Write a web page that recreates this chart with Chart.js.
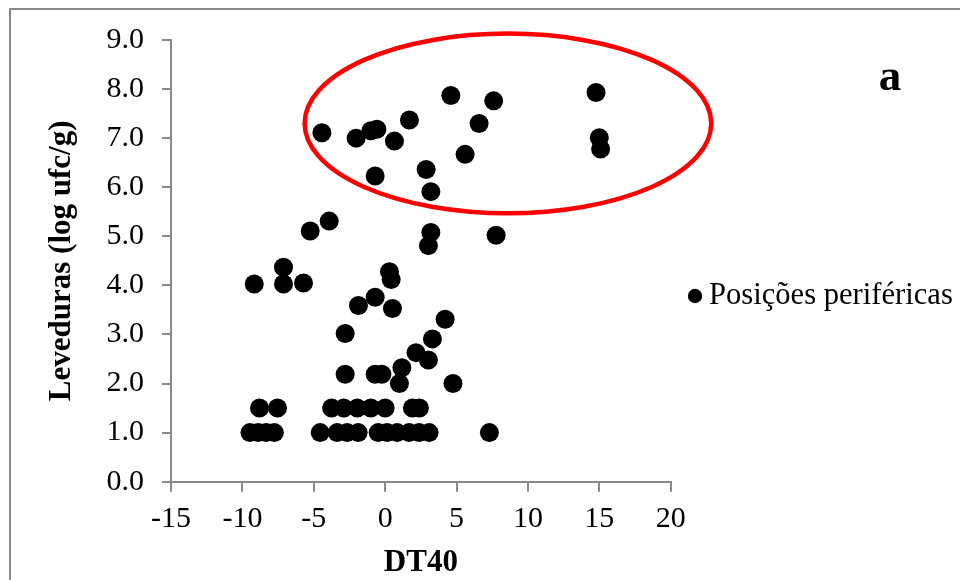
<!DOCTYPE html>
<html>
<head>
<meta charset="utf-8">
<script src="https://cdn.jsdelivr.net/npm/chart.js@4.4.1/dist/chart.umd.min.js"></script>
<style>
  body { margin: 0; background: #fff; }
</style>
</head>
<body>
<canvas id="dtChart" width="960" height="580"></canvas>
<script>
const seriesLabel = 'Posições periféricas';
const panelLetter = 'a';
const xTitle = 'DT40';
const yTitle = 'Leveduras (log ufc/g)';

// DT40 and yeast counts
const dt40 = [
  -4.43, -2.03, -1.0, -0.58, 0.65, 1.70, 4.6, 6.58, 5.6, 7.6, 14.77, 15.0, 15.09,
  -0.7, 2.87, 3.2, -5.25, -3.92, 3.2, 3.03, 7.77,
  -7.12, -9.17, -7.12, -5.72, 0.3, 0.42,
  -0.7, -1.87, 0.51, 4.2, -2.8, 3.31, 2.16, 3.03, 1.17,
  -2.8, -0.7, -0.23, 1.0, 4.75,
  -8.8, -7.54, -3.75, -2.9, -1.95, -1.0, 0.0, 1.91, 2.4,
  -9.47, -8.89, -8.33, -7.76, -4.55, -3.36, -2.66, -1.89, -0.49, 0.14, 0.84, 1.68, 2.38, 3.08, 7.3
];
const leveduras = [
  7.11, 7.0, 7.15, 7.18, 6.94, 7.37, 7.87, 7.30, 6.67, 7.76, 7.93, 7.01, 6.78,
  6.23, 6.36, 5.91, 5.11, 5.31, 5.08, 4.81, 5.02,
  4.37, 4.03, 4.03, 4.05, 4.28, 4.12,
  3.76, 3.59, 3.53, 3.31, 3.02, 2.91, 2.63, 2.48, 2.32,
  2.19, 2.19, 2.19, 2.0, 2.0,
  1.5, 1.5, 1.5, 1.5, 1.5, 1.5, 1.5, 1.5, 1.5,
  1.0, 1.0, 1.0, 1.0, 1.0, 1.0, 1.0, 1.0, 1.0, 1.0, 1.0, 1.0, 1.0, 1.0, 1.0
];

const xMin = -15, xMax = 20, xStep = 5;
const yMin = 0, yMax = 9, yStep = 1;

// red ellipse around the upper group, in data units
const ringCenter = [8.6, 7.3];
const ringRadii = [14.24, 1.83];

const serif = "'Liberation Serif', 'Times New Roman', serif";
const axisGray = '#898989';

const decor = {
  id: 'decor',
  beforeDraw(chart) {
    const ctx = chart.ctx;
    ctx.save();
    ctx.fillStyle = '#fff';
    ctx.fillRect(0, 0, chart.width, chart.height);
    ctx.strokeStyle = axisGray;
    ctx.lineWidth = 2;
    ctx.strokeRect(10, 9, 1000, 1000);
    ctx.restore();
  },
  afterDraw(chart) {
    const ctx = chart.ctx;
    const xs = chart.scales.x, ys = chart.scales.y;
    const cx = xs.getPixelForValue(ringCenter[0]);
    const cy = ys.getPixelForValue(ringCenter[1]);
    const rx = xs.getPixelForValue(ringCenter[0] + ringRadii[0]) - cx;
    const ry = cy - ys.getPixelForValue(ringCenter[1] + ringRadii[1]);
    ctx.save();
    ctx.strokeStyle = '#ff0000';
    ctx.lineWidth = 4.5;
    ctx.beginPath();
    ctx.ellipse(cx, cy, rx, ry, 0, 0, Math.PI * 2);
    ctx.stroke();

    // legend
    ctx.fillStyle = '#000';
    ctx.beginPath();
    ctx.arc(695, 296, 7.2, 0, Math.PI * 2);
    ctx.fill();
    ctx.font = '30.6px ' + serif;
    ctx.textBaseline = 'middle';
    ctx.textAlign = 'left';
    ctx.fillText(chart.data.datasets[0].label, 709, 296);

    // panel letter
    ctx.font = 'bold 45px ' + serif;
    ctx.textAlign = 'center';
    ctx.textBaseline = 'alphabetic';
    ctx.fillText(panelLetter, 890, 90);
    ctx.restore();
  }
};

new Chart(document.getElementById('dtChart'), {
  type: 'scatter',
  data: {
    datasets: [{
      label: seriesLabel,
      data: dt40.map((x, i) => ({ x: x, y: leveduras[i] })),
      backgroundColor: '#000',
      borderColor: '#000',
      borderWidth: 0,
      pointRadius: 9.5,
      pointHoverRadius: 9.5
    }]
  },
  options: {
    responsive: false,
    animation: false,
    layout: { padding: { top: 40, right: 289.3, left: 0, bottom: 0 } },
    plugins: {
      legend: { display: false },
      tooltip: { enabled: false }
    },
    scales: {
      x: {
        type: 'linear',
        min: xMin, max: xMax,
        afterFit(scale) { scale.height = 98.3; },
        ticks: { stepSize: xStep, color: '#000', padding: 9, font: { family: serif, size: 30 } },
        grid: { drawOnChartArea: false, drawTicks: true, tickLength: 10, color: axisGray, lineWidth: 2 },
        border: { color: axisGray, width: 2 },
        title: {
          display: true, text: xTitle, color: '#000', padding: 0,
          font: { family: serif, size: 31, weight: 'bold', lineHeight: 1.1 }
        }
      },
      y: {
        type: 'linear',
        min: yMin, max: yMax,
        afterFit(scale) { scale.width = 171; },
        ticks: {
          stepSize: yStep, color: '#000', padding: 18,
          font: { family: serif, size: 30 },
          callback: v => v.toFixed(1)
        },
        grid: { drawOnChartArea: false, drawTicks: true, tickLength: 9, color: axisGray, lineWidth: 2 },
        border: { color: axisGray, width: 2 },
        title: {
          display: true, text: yTitle, color: '#000', padding: { top: 43, bottom: 0 },
          font: { family: serif, size: 31, weight: 'bold' }
        }
      }
    }
  },
  plugins: [decor]
});
</script>
</body>
</html>
